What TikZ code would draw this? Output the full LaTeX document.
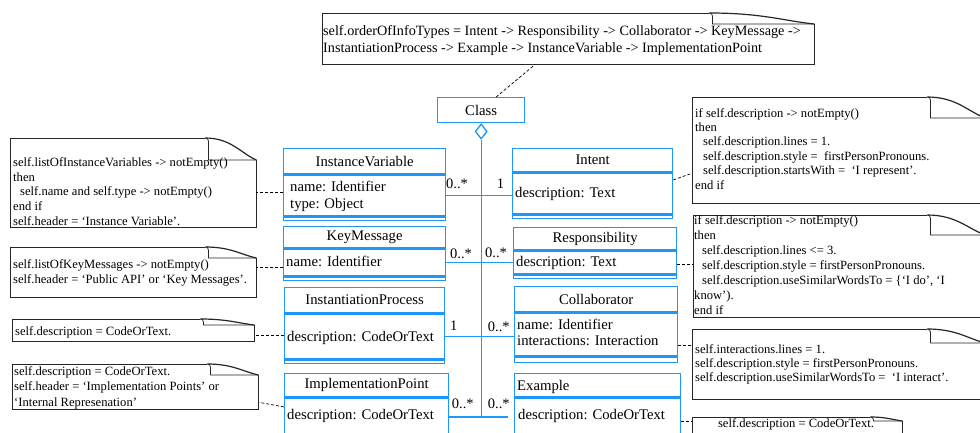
\documentclass[tikz,border=0pt]{standalone}
\usepackage{fontspec}
\setmainfont{Liberation Serif}
\usetikzlibrary{calc,shapes.geometric}

\definecolor{umlblue}{RGB}{30,150,250}

% note with a curled corner, drawn round an empty named node
\newcommand{\foldnote}[3]{%
  \draw[noteline] ($(#1.north east)+(-#2,0)$) -- (#1.north west) -- (#1.south west)
    -- (#1.south east) -- ($(#1.north east)+(0,#3)$);
  \draw[noteline, line width=1.2pt] ($(#1.north east)+(-#2,0)$)
    .. controls +(0.5*#2,0) and +(-0.3*#2,-0.3*#3) .. ($(#1.north east)+(0,#3)$);
  \draw[noteline] ($(#1.north east)+(-#2,0)$)
    .. controls +(2,0) and +(0,-2) .. ++(3,3) -- ++(0,#3-3) -- ($(#1.north east)+(0,#3)$);
}

\tikzset{
  umlbox/.style={draw=umlblue, line width=1.3pt, inner sep=0pt, font=\fontsize{14.7}{17}\selectfont},
  umltext/.style={anchor=base west, inner sep=0pt, font=\fontsize{14.7}{17}\selectfont},
  mult/.style={anchor=base west, inner sep=0pt, font=\fontsize{14.5}{17}\selectfont},
  assoc/.style={draw=umlblue, line width=1.3pt},
  notebox/.style={anchor=north west, inner sep=0pt},
  notetext/.style={anchor=north west, inner sep=0pt, align=left, font=\fontsize{12.6}{14.8}\selectfont},
  noteline/.style={draw=black!85, line width=0.8pt},
  notelink/.style={line width=0.7pt, dash pattern=on 3pt off 2pt}
}

\begin{document}
\begin{tikzpicture}[x=1pt, y=-1pt]
\clip (0,0) rectangle (980,432);

% classes
\node[umlbox, minimum width=87pt, minimum height=25pt, anchor=north west] (cls) at (437,97) {Class};
\node[umlbox, fill=white, diamond, aspect=0.8, minimum width=12pt, minimum height=15pt, anchor=north] (agg) at (cls.south) {};

\node[umlbox, minimum width=162pt, minimum height=25pt, anchor=north west] (iv) at (283,148) {InstanceVariable};
\node[umlbox, minimum width=162pt, minimum height=41pt, anchor=north] (ivattr) at (iv.south) {};
\node[umlbox, minimum width=162pt, minimum height=3pt, anchor=north] (ivops) at (ivattr.south) {};

\node[umlbox, minimum width=162pt, minimum height=21pt, anchor=north west] (km) at (283,226) {KeyMessage};
\node[umlbox, minimum width=162pt, minimum height=27pt, anchor=north] (kmattr) at (km.south) {};
\node[umlbox, minimum width=162pt, minimum height=3pt, anchor=north] (kmops) at (kmattr.south) {};

\node[umlbox, minimum width=160pt, minimum height=25pt, anchor=north west] (ip) at (284,287) {InstantiationProcess};
\node[umlbox, minimum width=160pt, minimum height=45pt, anchor=north] (ipattr) at (ip.south) {};
\node[umlbox, minimum width=160pt, minimum height=3pt, anchor=north] (ipops) at (ipattr.south) {};

\node[umlbox, minimum width=164pt, minimum height=23pt, anchor=north west] (ipm) at (284,373) {ImplementationPoint};
\node[umlbox, minimum width=164pt, minimum height=38pt, anchor=north] (ipmattr) at (ipm.south) {};

\node[umlbox, minimum width=160pt, minimum height=23pt, anchor=north west] (intent) at (512,148) {Intent};
\node[umlbox, minimum width=160pt, minimum height=41pt, anchor=north] (intentattr) at (intent.south) {};
\node[umlbox, minimum width=160pt, minimum height=3pt, anchor=north] (intentops) at (intentattr.south) {};

\node[umlbox, minimum width=163pt, minimum height=22pt, anchor=north west] (resp) at (513,227) {Responsibility};
\node[umlbox, minimum width=163pt, minimum height=23pt, anchor=north] (respattr) at (resp.south) {};
\node[umlbox, minimum width=163pt, minimum height=3pt, anchor=north] (respops) at (respattr.south) {};

\node[umlbox, minimum width=163pt, minimum height=25pt, anchor=north west] (collab) at (514,286) {Collaborator};
\node[umlbox, minimum width=163pt, minimum height=43pt, anchor=north] (collabattr) at (collab.south) {};
\node[umlbox, minimum width=163pt, minimum height=5pt, anchor=north] (collabops) at (collabattr.south) {};

\node[umlbox, minimum width=166pt, minimum height=23pt, anchor=north west] (ex) at (514,373) {};
\node[umlbox, minimum width=166pt, minimum height=38pt, anchor=north] (exattr) at (ex.south) {};

% attributes
\node[umltext] (ivname) at (290,191.7) {name: Identifier};
\node[umltext] (ivtype) at (290,208) {type: Object};
\node[umltext] (kmname) at (286,266) {name: Identifier};
\node[umltext] (ipdesc) at (287,341) {description: CodeOrText};
\node[umltext] (ipmdesc) at (287,419.3) {description: CodeOrText};
\node[umltext] (intentdesc) at (515,197.3) {description: Text};
\node[umltext] (respdesc) at (516,266) {description: Text};
\node[umltext] (collabname) at (517,329) {name: Identifier};
\node[umltext] (collabinter) at (517,345) {interactions: Interaction};
\node[umltext] (extitle) at (517,390) {Example};
\node[umltext] (exdesc) at (518,419) {description: CodeOrText};

% aggregation
\draw[assoc] (agg.south) -- (agg.south |- ipmattr.east);
\draw[assoc] (ivattr.east) -- (ivattr.east -| intent.west);
\draw[assoc] (kmattr.east) -- (kmattr.east -| resp.west);
\draw[assoc] (ipattr.east) -- (ipattr.east -| collab.west);
\draw[assoc] (ipmattr.east) -- ([xshift=-6pt]ipmattr.east -| ex.west);

\node[mult] (m1) at (446,188.3) {0..*};
\node[mult] (m2) at (496.7,188) {1};
\node[mult] (m3) at (450,258) {0..*};
\node[mult] (m4) at (485,257.7) {0..*};
\node[mult] (m5) at (450,330) {1};
\node[mult] (m6) at (487.7,331.7) {0..*};
\node[mult] (m7) at (451.7,408) {0..*};
\node[mult] (m8) at (487.7,408) {0..*};

% notes
\node[notebox, minimum width=492pt, minimum height=51pt] (topnote) at (322,13) {};
\foldnote{topnote}{105}{11}
\node[notetext, font=\fontsize{14.2}{17}\selectfont] (toptext) at (323,25) {self.orderOfInfoTypes = Intent -> Responsibility -> Collaborator -> KeyMessage ->\\
InstantiationProcess -> Example -> InstanceVariable -> ImplementationPoint};

\node[notebox, minimum width=246pt, minimum height=89pt] (ivnote) at (10,138) {};
\foldnote{ivnote}{51}{22}
\node[notetext] (ivtext) at (13,157.3) {self.listOfInstanceVariables -> notEmpty()\\
then\\
\hspace*{7pt}self.name and self.type -> notEmpty()\\
end if\\
self.header = ‘Instance Variable’.};

\node[notebox, minimum width=246pt, minimum height=50pt] (kmnote) at (10,247) {};
\foldnote{kmnote}{51}{11}
\node[notetext, font=\fontsize{12.6}{15}\selectfont] (kmtext) at (13,259.3) {self.listOfKeyMessages -> notEmpty()\\
self.header = ‘Public API’ or ‘Key Messages’.};

\node[notebox, minimum width=242pt, minimum height=22pt] (ipnote) at (12,319) {};
\foldnote{ipnote}{54}{6}
\node[notetext] (iptext) at (15,326.3) {self.description = CodeOrText.};

\node[notebox, minimum width=246pt, minimum height=45pt] (ipmnote) at (12,364) {};
\foldnote{ipmnote}{51}{11}
\node[notetext, font=\fontsize{12.6}{15.5}\selectfont] (ipmtext) at (14,366.3) {self.description = CodeOrText.\\
self.header = ‘Implementation Points’ or\\
‘Internal Represenation’};

\node[notebox, minimum width=293pt, minimum height=106pt] (intentnote) at (692,97) {};
\foldnote{intentnote}{58}{21}
\node[notetext, font=\fontsize{12.6}{14.4}\selectfont] (intenttext) at (695,108) {if self.description -> notEmpty()\\
then\\
\hspace*{8pt}self.description.lines = 1.\\
\hspace*{8pt}self.description.style =\ \ firstPersonPronouns.\\
\hspace*{8pt}self.description.startsWith =\ \ ‘I represent’.\\
end if};

\node[notebox, minimum width=292pt, minimum height=102pt] (respnote) at (693,215) {};
\foldnote{respnote}{58}{20}
\node[notetext, font=\fontsize{12.6}{15.1}\selectfont] (resptext) at (694,215.3) {if self.description -> notEmpty()\\
then\\
\hspace*{8pt}self.description.lines <= 3.\\
\hspace*{8pt}self.description.style = firstPersonPronouns.\\
\hspace*{8pt}self.description.useSimilarWordsTo = \{‘I do’, ‘I\\
know’).\\
end if};

\node[notebox, minimum width=293pt, minimum height=70pt] (collabnote) at (692,329) {};
\foldnote{collabnote}{58}{14}
\node[notetext, font=\fontsize{12.6}{14}\selectfont] (collabtext) at (695,344.6) {self.interactions.lines = 1.\\
self.description.style = firstPersonPronouns.\\
self.description.useSimilarWordsTo =\ \ ‘I interact’.};

\node[notebox, minimum width=210pt, minimum height=30pt] (exnote) at (692,417) {};
\foldnote{exnote}{32}{4}
\node[notetext, anchor=base] (extext) at (796,427) {self.description = CodeOrText.};

% note links
\draw[notelink] ([xshift=15pt]cls.north) -- ([xshift=-33pt]topnote.south);
\draw[notelink] ([yshift=3.5pt]ivattr.west) -- ([yshift=3.5pt]ivattr.west -| ivnote.east);
\draw[notelink] ([yshift=-4.5pt]kmattr.west) -- ([yshift=-4.5pt]kmattr.west -| kmnote.east);
\draw[notelink] ([yshift=1.5pt]ipattr.west) -- ([yshift=1.5pt]ipattr.west -| ipnote.east);
\draw[notelink] ([yshift=10pt]ipmattr.west) -- ([yshift=-15.5pt]ipmnote.east);
\draw[notelink] ([yshift=13.5pt]intentattr.east) -- ([yshift=-23pt]intentnote.west);
\draw[notelink] ([yshift=-1.5pt]respattr.east) -- ([yshift=-1.5pt]respattr.east -| respnote.west);
\draw[notelink] ([yshift=-10.5pt]collabattr.east) -- ([yshift=-10.5pt]collabattr.east -| collabnote.west);
\draw[notelink] ([yshift=-4pt]exattr.east) -- ([yshift=-4pt]exattr.east -| exnote.west);

\end{tikzpicture}
\end{document}
